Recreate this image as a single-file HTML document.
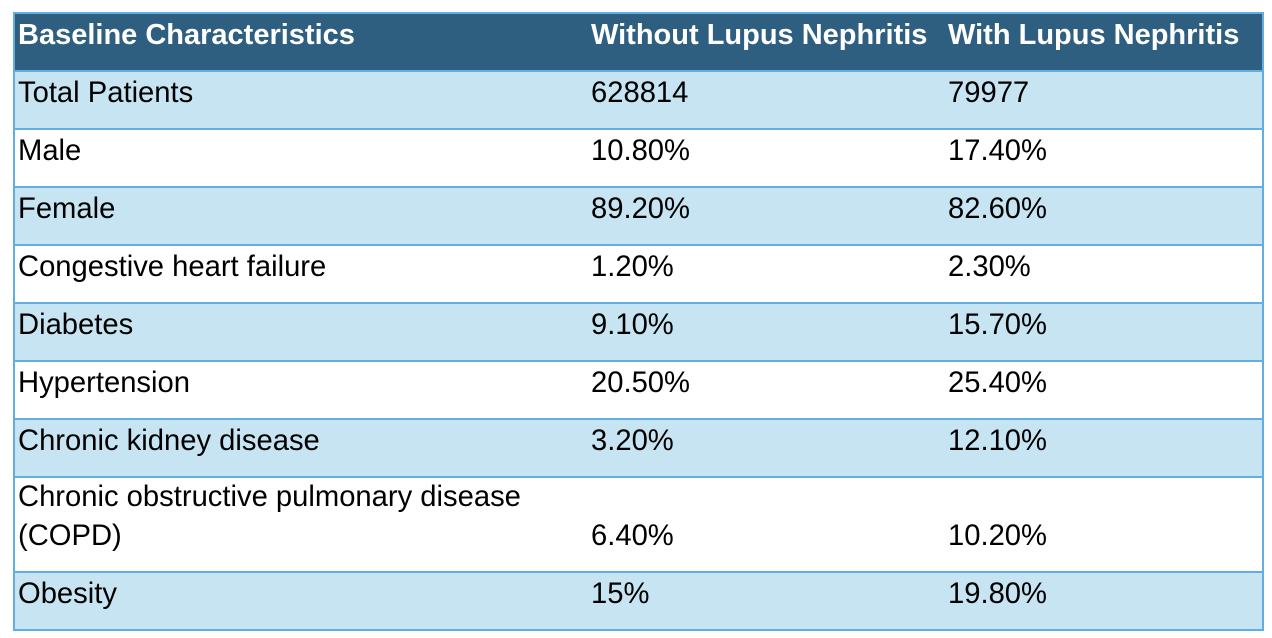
<!DOCTYPE html>
<html><head><meta charset="utf-8"><style>
html,body{margin:0;padding:0;background:#fff;width:1272px;height:638px;overflow:hidden}
table{position:absolute;left:13px;top:12px;width:1251px;border-collapse:collapse;font-family:"Liberation Sans",Arial,sans-serif;font-size:29.2px;color:#000;border:2px solid #62afdf}
td,th{padding:0 3px 15px 3px;vertical-align:bottom;text-align:left;line-height:39px;border-top:2px solid #62afdf;white-space:nowrap}
th{background:#2e5f80;color:#fff;font-weight:bold;height:41px;font-size:29px}
tr.l td{background:#c7e4f2}
tr.w td{background:#fff}
td{height:41px}
td.c1,th.c1{width:566px}
td.c2,th.c2{width:350px;padding-left:4px}
td.c3,th.c3{padding-left:4px}
</style></head><body>
<table>
<tr><th class="c1">Baseline Characteristics</th><th class="c2">Without Lupus Nephritis</th><th class="c3">With Lupus Nephritis</th></tr>
<tr class="l"><td class="c1">Total Patients</td><td class="c2">628814</td><td class="c3">79977</td></tr>
<tr class="w"><td class="c1">Male</td><td class="c2">10.80%</td><td class="c3">17.40%</td></tr>
<tr class="l"><td class="c1">Female</td><td class="c2">89.20%</td><td class="c3">82.60%</td></tr>
<tr class="w"><td class="c1">Congestive heart failure</td><td class="c2">1.20%</td><td class="c3">2.30%</td></tr>
<tr class="l"><td class="c1">Diabetes</td><td class="c2">9.10%</td><td class="c3">15.70%</td></tr>
<tr class="w"><td class="c1">Hypertension</td><td class="c2">20.50%</td><td class="c3">25.40%</td></tr>
<tr class="l"><td class="c1">Chronic kidney disease</td><td class="c2">3.20%</td><td class="c3">12.10%</td></tr>
<tr class="w"><td class="c1" style="height:78px">Chronic obstructive pulmonary disease<br>(COPD)</td><td class="c2">6.40%</td><td class="c3">10.20%</td></tr>
<tr class="l"><td class="c1">Obesity</td><td class="c2">15%</td><td class="c3">19.80%</td></tr>
</table>
</body></html>
